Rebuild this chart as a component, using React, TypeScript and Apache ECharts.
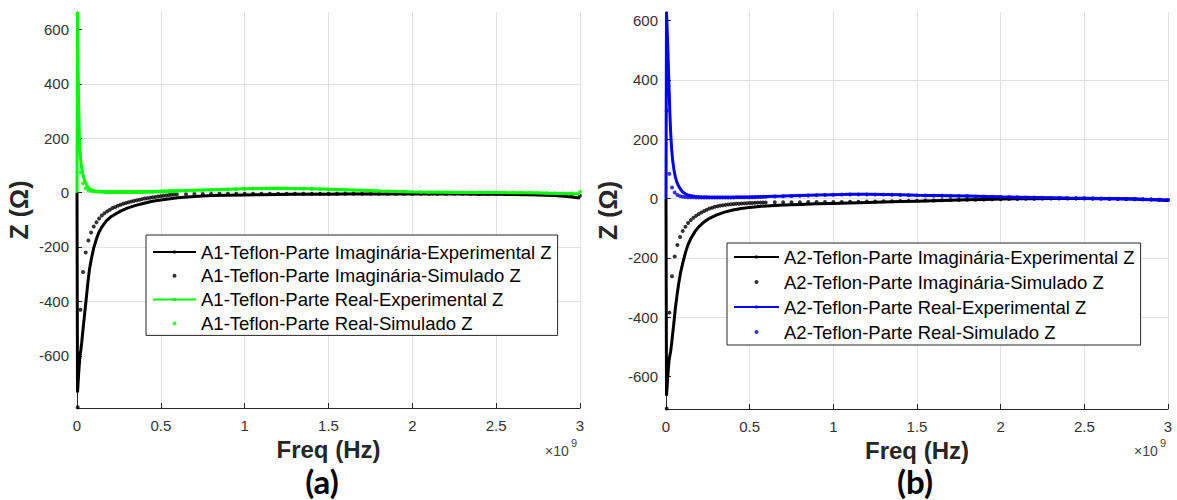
import React, { useEffect, useRef } from "react";
import * as echarts from "echarts";

const FONT = "'Liberation Sans', Arial, Helvetica, sans-serif";

const Y_TICKS = [-600, -400, -200, 0, 200, 400, 600];

// Frequencies (x 10^9 Hz) of the experimental curves
const F_EXP = [
  0, 0.003, 0.006, 0.01, 0.014, 0.018, 0.023, 0.028, 0.034, 0.04,
  0.048, 0.056, 0.065, 0.075, 0.087, 0.1, 0.115, 0.13, 0.15, 0.175,
  0.2, 0.23, 0.26, 0.3, 0.35, 0.4, 0.45, 0.5, 0.6, 0.7,
  0.8, 0.9, 1, 1.1, 1.2, 1.3, 1.4, 1.5, 1.6, 1.7,
  1.8, 1.9, 2, 2.1, 2.2, 2.3, 2.4, 2.5, 2.6, 2.7,
  2.8, 2.85, 2.9, 2.95, 3,
];

// Frequencies (x 10^9 Hz) of the simulated points
const F_SIM = [
  0.004, 0.02, 0.036, 0.052, 0.068, 0.084, 0.1, 0.116, 0.132, 0.148,
  0.164, 0.18, 0.196, 0.212, 0.228, 0.244, 0.26, 0.276, 0.292, 0.308,
  0.324, 0.34, 0.356, 0.372, 0.388, 0.404, 0.42, 0.436, 0.452, 0.468,
  0.484, 0.5, 0.516, 0.532, 0.548, 0.564, 0.58, 0.596, 0.65, 0.7,
  0.75, 0.8, 0.85, 0.9, 0.95, 1, 1.05, 1.1, 1.15, 1.2,
  1.25, 1.3, 1.35, 1.4, 1.45, 1.5, 1.55, 1.6, 1.65, 1.7,
  1.75, 1.8, 1.85, 1.9, 1.95, 2, 2.05, 2.1, 2.15, 2.2,
  2.25, 2.3, 2.35, 2.4, 2.45, 2.5, 2.55, 2.6, 2.65, 2.7,
  2.75, 2.8, 2.85, 2.9, 2.95, 3,
];

// Panel (a) A1
const A1_IM_EXP = [
  0, -735, -705, -665, -630, -600, -578, -552, -515, -478,
  -431, -385, -330, -280, -240, -203, -172, -147, -125, -104,
  -90, -79, -68, -57, -47, -39, -32, -27, -19, -14,
  -11, -9.5, -8.5, -7.5, -7, -6.5, -6, -6, -5.5, -5.5,
  -5, -5, -5, -5, -5.5, -5.5, -6, -6.5, -7, -8,
  -9.5, -11, -13, -16, -20,
];
const A1_RE_EXP = [
  0, 664, 480, 320, 205, 150, 115, 90, 70, 55,
  40, 29, 20, 14, 10, 7, 5.5, 4.5, 4, 3,
  2.5, 2, 2, 2, 2.5, 3, 3.5, 4.5, 6.5, 8.5,
  10.5, 12.5, 14, 15.5, 16, 15.5, 14, 12.5, 10.5, 8.5,
  6, 4, 2.5, 1.5, 1, 0.5, 0, 0, -0.5, -1,
  -2, -3, -3.5, -4, -5,
];
const A1_IM_SIM = [
  -789, -431, -292, -220, -176, -147, -125, -109, -95, -84,
  -76, -69, -63, -57, -53, -48, -45, -41, -38, -35.5,
  -33, -30.5, -28, -26, -24, -22, -20.5, -19, -17.4, -16,
  -14.5, -13, -11.7, -10.5, -9.2, -8, -7, -6.5, -6, -5.5,
  -5, -5, -4.5, -4.5, -4, -4, -4, -4, -4, -4,
  -4, -4, -4, -4, -4, -4, -4, -4, -4, -4,
  -4, -4, -4, -4, -4, -4, -4, -4, -4, -4.5,
  -4.5, -4.5, -4.5, -5, -5, -5, -5.5, -5.5, -6, -6,
  -6.5, -7, -8, -9, -10, -12,
];
const A1_RE_SIM = [
  282, 75, 34, 16, 9, 6, 4.5, 3.5, 3, 2.5,
  2.5, 2, 2, 2, 2, 2, 2, 2, 2, 2,
  2, 2, 2, 2.5, 2.5, 2.5, 3, 3, 3, 3,
  3.5, 3.5, 4, 4, 4.5, 4.5, 5, 5, 6.5, 7.5,
  8.5, 9.5, 10.5, 11.5, 12.5, 13, 14, 14.5, 15, 15,
  15, 14.5, 14, 13.5, 12.5, 11.5, 10.5, 9.5, 8.5, 7.5,
  6.5, 5.5, 4.5, 3.5, 3, 2.5, 2, 1.5, 1, 1,
  0.5, 0.5, 0, 0, 0, 0, -0.5, -0.5, -1, -1,
  -1.5, -2, -2.5, -3, -3, 3,
];

// Panel (b) A2
const A2_IM_EXP = [
  0, -665, -640, -605, -575, -548, -530, -515, -487, -455,
  -415, -370, -330, -290, -250, -218, -185, -158, -133, -110,
  -93, -78, -67, -56, -46, -39, -34, -30, -25, -22,
  -20, -18, -16.5, -15, -13.5, -12, -10.5, -9, -7.5, -6,
  -4.5, -3, -2, -1, -0.5, 0, 0, 0, -0.5, -1,
  -2, -3, -4, -5, -7,
];
const A2_RE_EXP = [
  0, 630, 585, 520, 450, 380, 290, 220, 165, 128,
  95, 72, 55, 42, 31, 22, 16, 12, 9, 6.5,
  5.5, 5, 4.5, 4, 4, 4, 4.5, 5, 6.5, 8,
  10, 11.5, 13, 14, 14, 13.5, 12.5, 11, 10, 9,
  8, 7, 5.5, 4.5, 3.5, 2.5, 1.5, 1, 0, -1,
  -2, -2.5, -3, -4, -5,
];
const A2_IM_SIM = [
  -708, -385, -262, -196, -157, -130, -110, -95, -83, -73,
  -65, -58, -52, -47, -42, -38, -34, -31, -28, -26,
  -24, -22.5, -21.5, -20.5, -19.5, -18.5, -18, -17.5, -17, -16.5,
  -16, -15.5, -15, -14.5, -14, -14, -13.5, -13.5, -13, -13,
  -12.5, -12.5, -12, -12, -12, -11.5, -11.5, -11, -11, -10.5,
  -10, -9.5, -9, -8.5, -8, -7.5, -7, -6.5, -6, -5.5,
  -5, -4.5, -4, -3.5, -3, -2.5, -2, -1.5, -1, -1,
  -0.5, -0.5, 0, 0, 0, 0, -0.5, -0.5, -1, -1,
  -1.5, -2, -2.5, -3, -4, -5,
];
const A2_RE_SIM = [
  296, 83, 37, 20, 12, 8, 6, 5, 4.5, 4,
  4, 3.5, 3.5, 3.5, 3.5, 3.5, 3.5, 3.5, 3.5, 3.5,
  3.5, 3.5, 3.5, 3.5, 3.5, 3.5, 4, 4, 4, 4,
  4, 4.5, 4.5, 4.5, 5, 5, 5.5, 5.5, 6.5, 7.5,
  8.5, 9.5, 10, 11, 11.5, 12.5, 13, 13.5, 13.5, 13.5,
  13, 13, 12.5, 12, 11, 10.5, 10, 9.5, 9, 8.5,
  8, 7.5, 7, 6.5, 5.5, 5, 4.5, 4, 3.5, 3,
  2.5, 2, 1.5, 1, 1, 0.5, 0, -0.5, -1, -1.5,
  -2, -2.5, -3, -3.5, -4, -5,
];

const NAMES_A = [
  "A1-Teflon-Parte Imaginária-Experimental Z",
  "A1-Teflon-Parte Imaginária-Simulado Z",
  "A1-Teflon-Parte Real-Experimental Z",
  "A1-Teflon-Parte Real-Simulado Z",
];
const NAMES_B = [
  "A2-Teflon-Parte Imaginária-Experimental Z",
  "A2-Teflon-Parte Imaginária-Simulado Z",
  "A2-Teflon-Parte Real-Experimental Z",
  "A2-Teflon-Parte Real-Simulado Z",
];

const zip = (xs: number[], ys: number[]) => {
  const n = Math.min(xs.length, ys.length);
  const out: number[][] = [];
  for (let i = 0; i < n; i++) out.push([xs[i], ys[i]]);
  return out;
};

const makeXAxis = (gridIndex: number) => ({
  type: "value",
  gridIndex,
  min: 0,
  max: 3,
  interval: 0.5,
  name: "Freq (Hz)",
  nameLocation: "middle",
  nameGap: 22,
  nameTextStyle: { fontSize: 24, lineHeight: 24, fontWeight: "bold", color: "#262626", fontFamily: FONT, verticalAlign: "top" },
  axisLine: { show: true, onZero: false, lineStyle: { color: "#262626", width: 1 } },
  axisTick: { show: true, inside: true, length: 5, lineStyle: { color: "#262626" } },
  axisLabel: { color: "#333", fontSize: 15, margin: 10, fontFamily: FONT },
  splitLine: { show: true, showMinLine: false, lineStyle: { color: "#e2e2e2", width: 1 } },
});

const makeYAxis = (gridIndex: number, min: number, max: number) => ({
  type: "value",
  gridIndex,
  min,
  max,
  splitNumber: 7,
  name: "Z (Ω)",
  nameLocation: "middle",
  nameRotate: 90,
  nameGap: 46,
  nameTextStyle: { fontSize: 25, fontWeight: "bold", color: "#262626", fontFamily: FONT },
  axisLine: { show: true, onZero: false, lineStyle: { color: "#262626", width: 1 } },
  axisTick: { show: true, inside: true, length: 5, customValues: Y_TICKS, lineStyle: { color: "#262626" } },
  axisLabel: { color: "#333", fontSize: 15, margin: 8, fontFamily: FONT, customValues: Y_TICKS },
  splitLine: { show: true, showMinLine: false, showMaxLine: false, lineStyle: { color: "#e2e2e2", width: 1 } },
});

const makeSeries = (
  idx: number,
  names: string[],
  imExp: number[],
  imSim: number[],
  reExp: number[],
  reSim: number[],
  reColor: string
) => [
  {
    type: "line", name: names[0], xAxisIndex: idx, yAxisIndex: idx,
    data: zip(F_EXP, imExp), symbol: "none",
    lineStyle: { color: "#000", width: 3 }, itemStyle: { color: "#000" },
  },
  {
    type: "scatter", name: names[1], xAxisIndex: idx, yAxisIndex: idx,
    data: zip(F_SIM, imSim), symbol: "circle", symbolSize: 4,
    itemStyle: { color: "#000" },
  },
  {
    type: "line", name: names[2], xAxisIndex: idx, yAxisIndex: idx,
    data: zip(F_EXP, reExp), symbol: "none",
    lineStyle: { color: reColor, width: 3 }, itemStyle: { color: reColor },
  },
  {
    type: "scatter", name: names[3], xAxisIndex: idx, yAxisIndex: idx,
    data: zip(F_SIM, reSim), symbol: "circle", symbolSize: 4,
    itemStyle: { color: reColor },
  },
];

const makeLegend = (names: string[], left: number, top: number, gap: number, pad: number[], w: number) => ({
  data: names,
  orient: "vertical",
  left,
  top,
  itemWidth: w,
  itemHeight: 4,
  itemGap: gap,
  padding: pad,
  borderColor: "#262626",
  borderWidth: 1,
  borderRadius: 0,
  backgroundColor: "#fff",
  selectedMode: false,
  textStyle: { fontSize: 18.5, lineHeight: 20, color: "#000", fontFamily: FONT },
});

const option = {
  animation: false,
  backgroundColor: "#fff",
  grid: [
    { left: 77, top: 12, width: 503, height: 396 },
    { left: 666, top: 12, width: 502, height: 397 },
  ],
  xAxis: [makeXAxis(0), makeXAxis(1)],
  yAxis: [makeYAxis(0, -792, 664), makeYAxis(1, -710, 629)],
  legend: [
    makeLegend(NAMES_A, 146, 235, 3.8, [7, 6, 2, 6], 43),
    makeLegend(NAMES_B, 727, 243, 5, [4, 6, 3, 6], 45),
  ],
  series: [
    ...makeSeries(0, NAMES_A, A1_IM_EXP, A1_IM_SIM, A1_RE_EXP, A1_RE_SIM, "#00ff00"),
    ...makeSeries(1, NAMES_B, A2_IM_EXP, A2_IM_SIM, A2_RE_EXP, A2_RE_SIM, "#0000ff"),
  ],
  graphic: [
    { type: "text", x: 322, y: 481, style: { text: "(a)", fontSize: 33, lineHeight: 33, fontWeight: "bold", fontFamily: "Lato, 'Open Sans', sans-serif", fill: "#000", align: "center", verticalAlign: "middle" } },
    { type: "text", x: 915, y: 481, style: { text: "(b)", fontSize: 33, lineHeight: 33, fontWeight: "bold", fontFamily: "Lato, 'Open Sans', sans-serif", fill: "#000", align: "center", verticalAlign: "middle" } },
    { type: "text", x: 545, y: 451, style: { text: "×10", fontSize: 14, fontFamily: FONT, fill: "#444", align: "left", verticalAlign: "middle" } },
    { type: "text", x: 571, y: 443, style: { text: "9", fontSize: 11, fontFamily: FONT, fill: "#444", align: "left", verticalAlign: "middle" } },
    { type: "text", x: 1134, y: 451, style: { text: "×10", fontSize: 14, fontFamily: FONT, fill: "#444", align: "left", verticalAlign: "middle" } },
    { type: "text", x: 1160, y: 443, style: { text: "9", fontSize: 11, fontFamily: FONT, fill: "#444", align: "left", verticalAlign: "middle" } },
  ],
};

export default function App() {
  const ref = useRef<HTMLDivElement>(null);
  useEffect(() => {
    if (!ref.current) return;
    const chart = echarts.init(ref.current, null, { renderer: "svg" });
    chart.setOption(option as any);
    return () => chart.dispose();
  }, []);
  return (
    <div
      ref={ref}
      style={{ position: "fixed", left: 0, top: 0, width: 1177, height: 500, background: "#fff" }}
    />
  );
}
